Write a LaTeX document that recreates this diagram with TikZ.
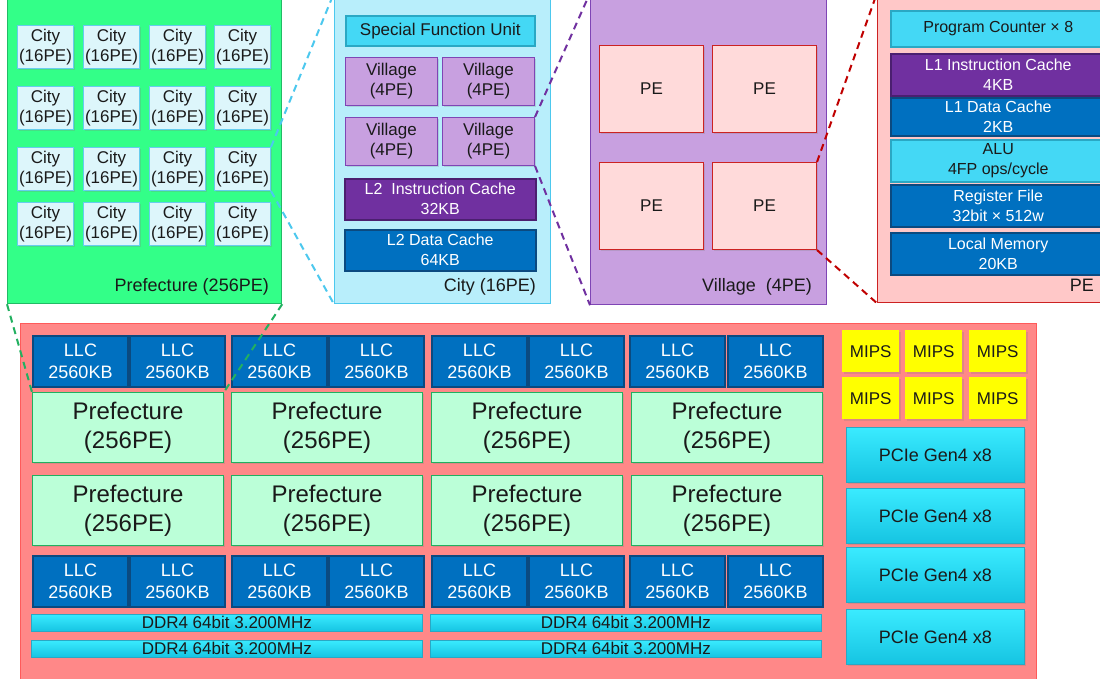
\documentclass[tikz,border=0pt]{standalone}
\usepackage{fontspec}
\setmainfont{Liberation Sans}
\usetikzlibrary{shadows}

\definecolor{prefgreen}{HTML}{33FF88}
\definecolor{prefline}{HTML}{22BB66}
\definecolor{preftile}{HTML}{BBFFD8}
\definecolor{preftileline}{HTML}{22B060}
\definecolor{citytile}{HTML}{DDF6FB}
\definecolor{citytileline}{HTML}{66CCEE}
\definecolor{cityback}{HTML}{B8EEFB}
\definecolor{cityline}{HTML}{4CC8EE}
\definecolor{cyanunit}{HTML}{44D8F5}
\definecolor{cyanline}{HTML}{2AA8C4}
\definecolor{villback}{HTML}{C8A0E0}
\definecolor{villline}{HTML}{7F45B5}
\definecolor{l2purple}{HTML}{7030A0}
\definecolor{l2purpleline}{HTML}{4B1F70}
\definecolor{cacheblue}{HTML}{0070C0}
\definecolor{cacheline}{HTML}{0B4A80}
\definecolor{petile}{HTML}{FFDADA}
\definecolor{petileline}{HTML}{CC2222}
\definecolor{peback}{HTML}{FFC8C8}
\definecolor{pered}{HTML}{C00000}
\definecolor{chipback}{HTML}{FF8888}
\definecolor{chipline}{HTML}{FF5A5A}
\definecolor{mips}{HTML}{FFFF00}
\definecolor{pcietop}{HTML}{3AEBFF}
\definecolor{pciebot}{HTML}{16C4E2}
\definecolor{ink}{HTML}{1A1A1A}

\tikzset{
  box/.style={draw, inner sep=0pt, align=center, anchor=north west, text=ink},
  shadowed/.style={drop shadow={opacity=0.25, shadow xshift=1.5pt, shadow yshift=-1.5pt}},
  panel/.style={draw, line width=1.2pt, anchor=north west, inner sep=0pt},
  paneltext/.style={anchor=east, inner sep=0pt, text=ink, font=\fontsize{18}{20}\selectfont},
  citybox/.style={box, shadowed, fill=citytile, draw=citytileline, line width=1pt,
    minimum width=56pt, minimum height=43pt, font=\fontsize{17}{20}\selectfont},
  cyanbox/.style={box, fill=cyanunit, draw=cyanline, line width=1.5pt},
  villbox/.style={box, shadowed, fill=villback, draw=villline, line width=1pt,
    minimum width=92pt, minimum height=48pt, font=\fontsize{17}{20}\selectfont},
  purplebox/.style={box, fill=l2purple, draw=l2purpleline, line width=1.5pt, text=white},
  bluebox/.style={box, fill=cacheblue, draw=cacheline, line width=1.5pt, text=white},
  pebox/.style={box, shadowed, fill=petile, draw=petileline, line width=1pt,
    minimum width=104pt, minimum height=87pt, font=\fontsize{17}{20}\selectfont},
  llcbox/.style={bluebox, line width=2pt, minimum width=95pt, minimum height=51pt,
    font=\fontsize{18}{22}\selectfont},
  prefbox/.style={box, shadowed, fill=preftile, draw=preftileline, line width=1pt,
    minimum width=191pt, minimum height=70pt, font=\fontsize{24}{29}\selectfont},
  ddrbox/.style={box, draw=cyanline, line width=0.6pt, top color=pcietop, bottom color=pciebot,
    minimum width=391pt, minimum height=17pt, font=\fontsize{17}{17}\selectfont},
  mipsbox/.style={box, shadowed, draw=none, fill=mips, minimum width=57pt, minimum height=42pt,
    font=\fontsize{17}{20}\selectfont},
  pciebox/.style={box, shadowed, draw=cyanline, line width=0.6pt, top color=pcietop, bottom color=pciebot,
    minimum width=178pt, minimum height=55pt, font=\fontsize{18}{20}\selectfont},
  zoomline/.style={dash pattern=on 7pt off 5pt, line width=2pt}
}

\begin{document}
\begin{tikzpicture}[x=1pt,y=-1pt]
  \useasboundingbox (0,0) rectangle (1100,678);
  \clip (0,0) rectangle (1100,678);
  \fill[white] (0,0) rectangle (1100,678);

  \node[panel, fill=prefgreen, draw=prefline, minimum width=274pt, minimum height=310pt] (prefpanel) at (7,-7) {};
  \foreach \r/\y in {1/25,2/86,3/147,4/202}{
    \foreach \c/\x in {1/17,2/83,3/149,4/214}{
      \node[citybox] (city-\r-\c) at (\x,\y) {City\\(16PE)};}}
  \node[paneltext] (preflabel) at (269,287) {Prefecture (256PE)};

  \node[panel, fill=cityback, draw=cityline, minimum width=216pt, minimum height=310pt] (citypanel) at (334,-7) {};
  \node[cyanbox, minimum width=189pt, minimum height=30pt, font=\fontsize{17}{20}\selectfont] (sfu) at (345,15) {Special Function Unit};
  \foreach \r/\y in {1/57,2/117}{
    \foreach \c/\x in {1/345,2/442}{
      \node[villbox] (vill-\r-\c) at (\x,\y) {Village\\(4PE)};}}
  \node[purplebox, minimum width=191pt, minimum height=41pt, font=\fontsize{16}{20}\selectfont] (l2i) at (344,178) {L2\ \ Instruction Cache\\32KB};
  \node[bluebox, minimum width=191pt, minimum height=41pt, font=\fontsize{16}{20}\selectfont] (l2d) at (344,229) {L2 Data Cache\\64KB};
  \node[paneltext] (citylabel) at (536,287) {City (16PE)};

  \node[panel, fill=villback, draw=villline, minimum width=236pt, minimum height=311pt] (villpanel) at (590,-7) {};
  \foreach \r/\y in {1/45,2/162}{
    \foreach \c/\x in {1/599,2/712}{
      \node[pebox] (pe-\r-\c) at (\x,\y) {PE};}}
  \node[paneltext] (villlabel) at (812,287) {Village\ \ (4PE)};

  \node[panel, fill=peback, draw=petileline, minimum width=240pt, minimum height=309pt] (pepanel) at (877,-7) {};
  \node[cyanbox, minimum width=215pt, minimum height=36pt, font=\fontsize{16}{20}\selectfont] (pc) at (890,10) {Program Counter × 8};
  \node[purplebox, minimum width=215pt, minimum height=42pt, font=\fontsize{16}{20}\selectfont] (l1i) at (890,53) {L1 Instruction Cache\\4KB};
  \node[bluebox, minimum width=215pt, minimum height=38pt, font=\fontsize{16}{20}\selectfont] (l1d) at (890,97) {L1 Data Cache\\2KB};
  \node[cyanbox, minimum width=215pt, minimum height=42pt, font=\fontsize{16}{20}\selectfont] (alu) at (890,139) {ALU\\4FP ops/cycle};
  \node[bluebox, minimum width=215pt, minimum height=42pt, font=\fontsize{16}{20}\selectfont] (regfile) at (890,184) {Register File\\32bit × 512w};
  \node[bluebox, minimum width=215pt, minimum height=42pt, font=\fontsize{16}{20}\selectfont] (localmem) at (890,232) {Local Memory\\20KB};
  \node[paneltext] (pelabel) at (1094,285) {PE};

  \node[panel, fill=chipback, draw=chipline, minimum width=1016pt, minimum height=370pt] (chip) at (20,323) {};
  \foreach \i/\x in {1/32,2/129,3/231,4/328,5/431,6/528,7/629,8/727}{
    \node[llcbox] (llc-t-\i) at (\x,335) {LLC\\2560KB};
    \node[llcbox] (llc-b-\i) at (\x,555) {LLC\\2560KB};}
  \foreach \r/\y in {1/392,2/475}{
    \foreach \c/\x in {1/32,2/231,3/431,4/631}{
      \node[prefbox] (pref-\r-\c) at (\x,\y) {Prefecture\\(256PE)};}}
  \foreach \r/\y in {1/614,2/640}{
    \foreach \c/\x in {1/31,2/430}{
      \node[ddrbox] (ddr-\r-\c) at (\x,\y) {DDR4 64bit 3.200MHz};}}
  \foreach \r/\y in {1/330,2/377}{
    \foreach \c/\x in {1/842,2/905,3/969}{
      \node[mipsbox] (mips-\r-\c) at (\x,\y) {MIPS};}}
  \foreach \i/\y in {1/427,2/488,3/547,4/609}{
    \node[pciebox] (pcie-\i) at (846,\y) {PCIe Gen4 x8};}

  \draw[zoomline, draw=cityline] (city-3-4.north east) -- (citypanel.north west);
  \draw[zoomline, draw=cityline] (city-3-4.south east) -- (citypanel.south west);
  \draw[zoomline, draw=l2purple] (vill-2-2.north east) -- (villpanel.north west);
  \draw[zoomline, draw=l2purple] (vill-2-2.south east) -- (villpanel.south west);
  \draw[zoomline, draw=pered] (pe-2-2.north east) -- (pepanel.north west);
  \draw[zoomline, draw=pered] (pe-2-2.south east) -- (pepanel.south west);
  \draw[zoomline, draw=preftileline] (prefpanel.south west) -- (pref-1-1.north west);
  \draw[zoomline, draw=preftileline] (prefpanel.south east) -- (pref-1-1.north east);
\end{tikzpicture}
\end{document}
